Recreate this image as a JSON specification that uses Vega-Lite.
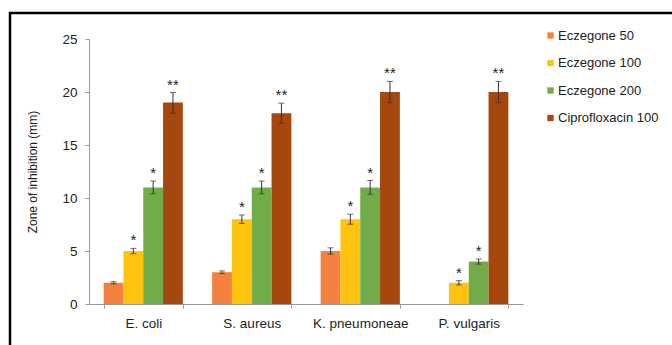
{
  "$schema": "https://vega.github.io/schema/vega-lite/v6.json",
  "autosize": {"type": "none"},
  "width": 672,
  "height": 340,
  "padding": {"left": 10, "top": 13, "right": 0, "bottom": 0},
  "background": "white",
  "config": {
    "font": "Liberation Sans",
    "view": {"stroke": "black", "strokeWidth": 2.5},
    "axis": {"grid": false, "domainColor": "#999999", "tickColor": "#999999", "tickSize": 4, "labelColor": "#222222", "labelFontSize": 13.5, "titleColor": "#222222"},
    "axisY": {"offset": -79, "labelPadding": 8, "titleFontSize": 12, "titleFontWeight": "normal", "titlePadding": 22},
    "axisX": {"offset": -49, "labelPadding": 8, "labelAngle": 0, "tickBand": "extent"},
    "legend": {"orient": "none", "legendX": 534, "legendY": 16, "symbolType": "square", "symbolSize": 40, "symbolStrokeWidth": 0, "labelFontSize": 13, "labelColor": "#222222", "rowPadding": 13.5, "labelOffset": 1, "padding": 0}
  },
  "data": {
    "values": [
      {"org": "E. coli", "grp": "Eczegone 50", "v": 2, "lo": 1.9, "hi": 2.1, "sig": ""},
      {"org": "E. coli", "grp": "Eczegone 100", "v": 5, "lo": 4.75, "hi": 5.25, "sig": "*"},
      {"org": "E. coli", "grp": "Eczegone 200", "v": 11, "lo": 10.4, "hi": 11.6, "sig": "*"},
      {"org": "E. coli", "grp": "Ciprofloxacin 100", "v": 19, "lo": 18.0, "hi": 19.95, "sig": "**"},
      {"org": "S. aureus", "grp": "Eczegone 50", "v": 3, "lo": 2.88, "hi": 3.12, "sig": ""},
      {"org": "S. aureus", "grp": "Eczegone 100", "v": 8, "lo": 7.6, "hi": 8.4, "sig": "*"},
      {"org": "S. aureus", "grp": "Eczegone 200", "v": 11, "lo": 10.4, "hi": 11.6, "sig": "*"},
      {"org": "S. aureus", "grp": "Ciprofloxacin 100", "v": 18, "lo": 17.05, "hi": 18.95, "sig": "**"},
      {"org": "K. pneumoneae", "grp": "Eczegone 50", "v": 5, "lo": 4.7, "hi": 5.3, "sig": ""},
      {"org": "K. pneumoneae", "grp": "Eczegone 100", "v": 8, "lo": 7.53, "hi": 8.47, "sig": "*"},
      {"org": "K. pneumoneae", "grp": "Eczegone 200", "v": 11, "lo": 10.35, "hi": 11.65, "sig": "*"},
      {"org": "K. pneumoneae", "grp": "Ciprofloxacin 100", "v": 20, "lo": 19.0, "hi": 21.0, "sig": "**"},
      {"org": "P. vulgaris", "grp": "Eczegone 100", "v": 2, "lo": 1.8, "hi": 2.2, "sig": "*"},
      {"org": "P. vulgaris", "grp": "Eczegone 200", "v": 4, "lo": 3.76, "hi": 4.24, "sig": "*"},
      {"org": "P. vulgaris", "grp": "Ciprofloxacin 100", "v": 20, "lo": 19.0, "hi": 21.0, "sig": "**"}
    ]
  },
  "encoding": {
    "x": {
      "field": "org", "type": "nominal",
      "sort": ["E. coli", "S. aureus", "K. pneumoneae", "P. vulgaris"],
      "scale": {"range": [79, 513], "paddingInner": 0.27, "paddingOuter": 0.135},
      "title": null
    },
    "xOffset": {
      "field": "grp", "type": "nominal",
      "sort": ["Eczegone 50", "Eczegone 100", "Eczegone 200", "Ciprofloxacin 100"],
      "scale": {"paddingInner": 0, "paddingOuter": 0}
    }
  },
  "layer": [
    {
      "mark": {"type": "bar"},
      "encoding": {
        "y": {"field": "v", "type": "quantitative", "title": "Zone of inhibition (mm)",
              "scale": {"domain": [0, 25], "range": [291, 26], "nice": false},
              "axis": {"values": [0, 5, 10, 15, 20, 25]}},
        "color": {
          "field": "grp", "type": "nominal",
          "sort": ["Eczegone 50", "Eczegone 100", "Eczegone 200", "Ciprofloxacin 100"],
          "scale": {"domain": ["Eczegone 50", "Eczegone 100", "Eczegone 200", "Ciprofloxacin 100"],
                    "range": ["#F4813F", "#FFC20E", "#72AC48", "#A6480E"]},
          "legend": {"title": null}
        }
      }
    },
    {
      "mark": {"type": "rule", "color": "#333333", "strokeWidth": 1},
      "encoding": {
        "y": {"field": "lo", "type": "quantitative", "title": "Zone of inhibition (mm)"},
        "y2": {"field": "hi"}
      }
    },
    {
      "mark": {"type": "tick", "color": "#333333", "thickness": 1, "size": 6, "orient": "horizontal"},
      "encoding": {"y": {"field": "lo", "type": "quantitative", "title": "Zone of inhibition (mm)"}}
    },
    {
      "mark": {"type": "tick", "color": "#333333", "thickness": 1, "size": 6, "orient": "horizontal"},
      "encoding": {"y": {"field": "hi", "type": "quantitative", "title": "Zone of inhibition (mm)"}}
    },
    {
      "mark": {"type": "text", "baseline": "bottom", "dy": 0, "fontSize": 15, "color": "#222222"},
      "encoding": {
        "y": {"field": "hi", "type": "quantitative", "title": "Zone of inhibition (mm)"},
        "text": {"field": "sig"}
      }
    }
  ]
}
